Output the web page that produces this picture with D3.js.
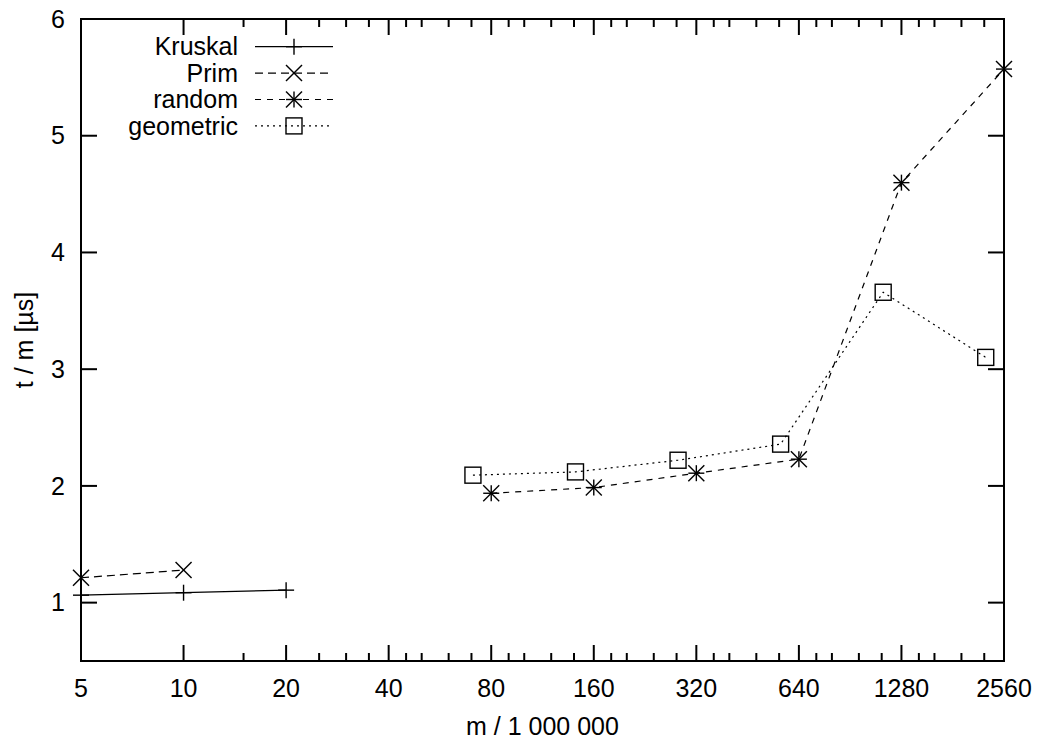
<!DOCTYPE html>
<html>
<head>
<meta charset="utf-8">
<script src="https://cdn.jsdelivr.net/npm/d3@7/dist/d3.min.js"></script>
<style>
html,body{margin:0;padding:0;background:#fff;}
svg{display:block;}
text{font-family:"Liberation Sans",Arial,Helvetica,sans-serif;fill:#000;}
</style>
</head>
<body>
<script>
// ---- data ----
const kruskalX = [5, 10, 20];
const kruskalY = [1.064, 1.085, 1.107];
const primX = [5, 10];
const primY = [1.213, 1.279];
const randomX = [80, 160, 320, 640, 1280, 2560];
const randomY = [1.937, 1.986, 2.109, 2.229, 4.598, 5.571];
const geometricX = [70.7, 141.4, 282.8, 565.7, 1131.4, 2262.7];
const geometricY = [2.092, 2.120, 2.220, 2.358, 3.659, 3.101];
const xTickValues = [5, 10, 20, 40, 80, 160, 320, 640, 1280, 2560];
const xMinorTicks = [15, 25, 30, 35, 45, 50, 60, 70, 90, 100, 120, 140,
  180, 200, 240, 280, 360, 400, 480, 560, 720, 800, 960, 1120, 1440, 1600, 1920, 2240];
const yTickValues = [1, 2, 3, 4, 5, 6];
const seriesNames = ["Kruskal", "Prim", "random", "geometric"];

// ---- layout ----
const W = 1041, H = 742;
const L = 81, R = 1004, T = 19, B = 661;
const svg = d3.select("body").append("svg").attr("width", W).attr("height", H);

const x = d3.scaleLog().base(2).domain([5, 2560]).range([L, R]);
const y = d3.scaleLinear().domain([0.5, 6]).range([B, T]);

const FS = 25;
const ink = "#000";

// ticks (all four sides)
const tg = svg.append("g").attr("stroke", ink).attr("stroke-width", 2);
xTickValues.forEach(v => {
  const px = x(v);
  tg.append("line").attr("x1", px).attr("x2", px).attr("y1", B).attr("y2", B - 16);
  tg.append("line").attr("x1", px).attr("x2", px).attr("y1", T).attr("y2", T + 16);
});
xMinorTicks.forEach(v => {
  const px = x(v);
  tg.append("line").attr("x1", px).attr("x2", px).attr("y1", B).attr("y2", B - 8);
  tg.append("line").attr("x1", px).attr("x2", px).attr("y1", T).attr("y2", T + 8);
});
yTickValues.forEach(v => {
  const py = y(v);
  tg.append("line").attr("x1", L).attr("x2", L + 16).attr("y1", py).attr("y2", py);
  tg.append("line").attr("x1", R).attr("x2", R - 16).attr("y1", py).attr("y2", py);
});

// tick labels
xTickValues.forEach(v => {
  svg.append("text").attr("x", x(v)).attr("y", 697).attr("text-anchor", "middle")
    .attr("font-size", FS).text(v);
});
yTickValues.forEach(v => {
  svg.append("text").attr("x", 65).attr("y", y(v)).attr("dy", "0.35em")
    .attr("text-anchor", "end").attr("font-size", FS).text(v);
});

// axis titles
svg.append("text").attr("x", (L + R) / 2).attr("y", 735).attr("text-anchor", "middle")
  .attr("font-size", FS).text("m / 1 000 000");
svg.append("text").attr("transform", `translate(33,${(T + B) / 2}) rotate(-90)`)
  .attr("text-anchor", "middle").attr("font-size", FS).text("t / m [µs]");

// marker drawing
function marker(g, type, cx, cy) {
  const s = 8;
  const m = g.append("g").attr("stroke", ink).attr("stroke-width", 1.4).attr("fill", "none");
  if (type === "plus" || type === "star") {
    m.append("line").attr("x1", cx - s).attr("x2", cx + s).attr("y1", cy).attr("y2", cy);
    m.append("line").attr("x1", cx).attr("x2", cx).attr("y1", cy - s).attr("y2", cy + s);
  }
  if (type === "cross" || type === "star") {
    m.append("line").attr("x1", cx - s).attr("x2", cx + s).attr("y1", cy - s).attr("y2", cy + s);
    m.append("line").attr("x1", cx - s).attr("x2", cx + s).attr("y1", cy + s).attr("y2", cy - s);
  }
  if (type === "square") {
    m.append("rect").attr("x", cx - s).attr("y", cy - s).attr("width", 2 * s).attr("height", 2 * s);
  }
}

const series = [
  {xs: kruskalX, ys: kruskalY, dash: null, mk: "plus"},
  {xs: primX, ys: primY, dash: "8,5", mk: "cross"},
  {xs: randomX, ys: randomY, dash: "6,6", mk: "star"},
  {xs: geometricX, ys: geometricY, dash: "2,4", mk: "square"}
];

const line = d3.line().x(d => x(d[0])).y(d => y(d[1]));
const dg = svg.append("g");
series.forEach(s => {
  const pts = s.xs.map((v, i) => [v, s.ys[i]]);
  dg.append("path").attr("d", line(pts)).attr("fill", "none").attr("stroke", ink)
    .attr("stroke-width", 1.2).attr("stroke-dasharray", s.dash);
  pts.forEach(p => marker(dg, s.mk, x(p[0]), y(p[1])));
});

// legend
const lg = svg.append("g");
series.forEach((s, i) => {
  const cy = 46.7 + i * 26.4;
  lg.append("text").attr("x", 238).attr("y", cy).attr("dy", "0.35em")
    .attr("text-anchor", "end").attr("font-size", FS).text(seriesNames[i]);
  lg.append("line").attr("x1", 255).attr("x2", 333).attr("y1", cy).attr("y2", cy)
    .attr("stroke", ink).attr("stroke-width", 1.2).attr("stroke-dasharray", s.dash);
  marker(lg, s.mk, 294, cy);
});

// frame
svg.append("rect").attr("x", L).attr("y", T).attr("width", R - L).attr("height", B - T)
  .attr("fill", "none").attr("stroke", ink).attr("stroke-width", 2);
</script>
</body>
</html>
